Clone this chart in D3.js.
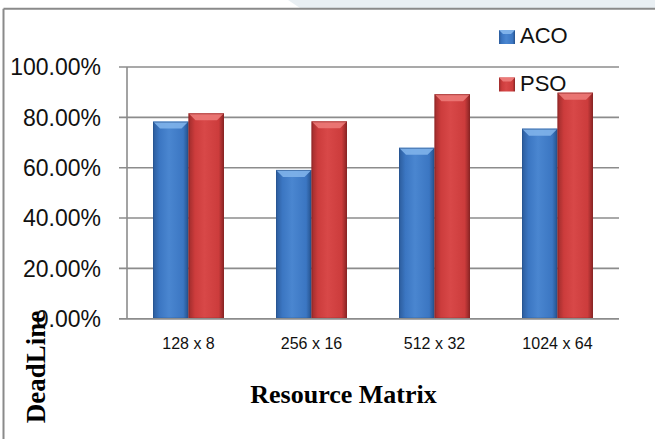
<!DOCTYPE html>
<html><head><meta charset="utf-8">
<script src="https://cdn.jsdelivr.net/npm/d3@7"></script>
<style>html,body{margin:0;padding:0;background:#fff;overflow:hidden}</style>
</head><body>
<svg id="chart" width="655" height="439"></svg>
<script>
const categories = ["128 x 8", "256 x 16", "512 x 32", "1024 x 64"];
const seriesNames = ["ACO", "PSO"];
const acoValues = [0.783, 0.591, 0.679, 0.755];
const psoValues = [0.816, 0.784, 0.892, 0.898];
const yTicks = [0, 0.2, 0.4, 0.6, 0.8, 1.0];

const svg = d3.select("#chart");
const defs = svg.append("defs");
const colors = {
  ACO: {dark:"#2c5c9c", mid:"#3b76c2", light:"#4a86d0", top:"#7fb2ea", edge:"#24508a"},
  PSO: {dark:"#9e2c2c", mid:"#cc3c3c", light:"#d84848", top:"#ec7a78", edge:"#882424"}
};
seriesNames.forEach(s => {
  const c = colors[s];
  const g = defs.append("linearGradient").attr("id","g"+s).attr("x1","0").attr("x2","1").attr("y1","0").attr("y2","0");
  g.append("stop").attr("offset","0%").attr("stop-color",c.dark);
  g.append("stop").attr("offset","18%").attr("stop-color",c.mid);
  g.append("stop").attr("offset","45%").attr("stop-color",c.light);
  g.append("stop").attr("offset","85%").attr("stop-color",c.mid);
  g.append("stop").attr("offset","100%").attr("stop-color",c.edge);
});

// watermark
svg.append("polygon").attr("points","288,0 655,0 655,8 300,8").attr("fill","#e9eff3");

// outer border
svg.append("line").attr("x1",3.5).attr("x2",655).attr("y1",8.7).attr("y2",8.7).attr("stroke","#8a8a8a").attr("stroke-width",2);
svg.append("line").attr("x1",3.5).attr("x2",3.5).attr("y1",8.7).attr("y2",439).attr("stroke","#8a8a8a").attr("stroke-width",2);

const x = d3.scaleBand().domain(categories).range([127,619]).paddingInner(0.423).paddingOuter(0.2115);
const xs = d3.scaleBand().domain(seriesNames).range([0, x.bandwidth()]);
const y = d3.scaleLinear().domain([0,1]).range([318.7,67]);

// gridlines
svg.append("g").selectAll("line").data(yTicks).join("line")
  .attr("x1",119).attr("x2",619).attr("y1",d=>y(d)).attr("y2",d=>y(d))
  .attr("stroke","#8c8c8c").attr("stroke-width",1.6);
svg.append("line").attr("x1",127).attr("x2",127).attr("y1",y(1)).attr("y2",y(0)).attr("stroke","#8c8c8c").attr("stroke-width",1.6);

// y labels
svg.append("g").selectAll("text").data(yTicks).join("text")
  .attr("x",101).attr("y",d=>y(d)).attr("dy","0.36em").attr("text-anchor","end")
  .attr("font-family","Liberation Sans, Arial, sans-serif").attr("font-size",23).attr("fill","#111")
  .text(d=>d3.format(".2%")(d));

// bars
const data = [];
categories.forEach((c,i)=>{
  data.push({cat:c, s:"ACO", v:acoValues[i]});
  data.push({cat:c, s:"PSO", v:psoValues[i]});
});
const bars = svg.append("g").selectAll("g").data(data).join("g")
  .attr("transform",d=>`translate(${x(d.cat)+xs(d.s)},0)`);
const bw = xs.bandwidth();
bars.append("rect").attr("x",0).attr("width",bw).attr("y",d=>y(d.v)).attr("height",d=>y(0)-y(d.v))
  .attr("fill",d=>`url(#g${d.s})`);
bars.append("polygon").attr("points",d=>{
  const t=y(d.v), b=7;
  return `0,${t} ${bw},${t} ${bw-b},${t+b} ${b},${t+b}`;
}).attr("fill",d=>colors[d.s].top).attr("opacity",0.9);
bars.append("rect").attr("x",0.5).attr("width",bw-1).attr("y",d=>y(d.v)+0.5).attr("height",d=>y(0)-y(d.v)-1)
  .attr("fill","none").attr("stroke",d=>colors[d.s].edge).attr("stroke-width",1).attr("opacity",0.6);

// baseline over bars
svg.append("line").attr("x1",119).attr("x2",619).attr("y1",y(0)).attr("y2",y(0)).attr("stroke","#8c8c8c").attr("stroke-width",1.6);

// x labels
svg.append("g").selectAll("text").data(categories).join("text")
  .attr("x",d=>x(d)+x.bandwidth()/2).attr("y",349).attr("text-anchor","middle")
  .attr("font-family","Liberation Sans, Arial, sans-serif").attr("font-size",16).attr("fill","#111")
  .text(d=>d);

// axis titles
svg.append("text").attr("x",343.5).attr("y",403).attr("text-anchor","middle")
  .attr("font-family","Liberation Serif, Times New Roman, serif").attr("font-weight","bold").attr("font-size",26).attr("fill","#000")
  .text("Resource Matrix");
svg.append("text").attr("transform","translate(45,367) rotate(-90)").attr("text-anchor","middle")
  .attr("font-family","Liberation Serif, Times New Roman, serif").attr("font-weight","bold").attr("font-size",27).attr("fill","#000")
  .text("DeadLine");

// legend
const leg = svg.append("g").selectAll("g").data(seriesNames).join("g")
  .attr("transform",(d,i)=>`translate(499,${30+i*47.5})`);
leg.append("rect").attr("width",16).attr("height",14).attr("fill",d=>`url(#g${d})`);
leg.append("polygon").attr("points","0,0 16,0 12,4 4,4").attr("fill",d=>colors[d].top);
leg.append("text").attr("x",21).attr("y",13).attr("font-family","Liberation Sans, Arial, sans-serif").attr("font-size",22).attr("fill","#111").text(d=>d);
</script>
</body></html>
